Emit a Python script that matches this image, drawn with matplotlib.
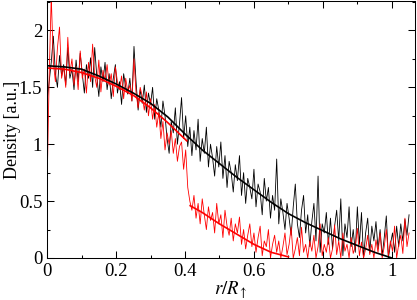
import numpy as np
import matplotlib
matplotlib.use('Agg')
import matplotlib.pyplot as plt
from matplotlib.ticker import MultipleLocator

# noisy density profiles, sampled every 0.006 in r/R
step = 0.006
black_noisy = [
    1.38, 1.55, 1.72, 1.95, 1.62, 1.50, 1.78, 1.60, 1.70, 1.52,
    1.85, 1.58, 1.66, 1.48, 1.74, 1.55, 1.80, 1.62, 1.45, 1.70,
    1.58, 1.76, 1.50, 1.85, 1.60, 1.42, 1.68, 1.55, 1.72, 1.48,
    1.62, 1.40, 1.58, 1.70, 1.45, 1.55, 1.35, 1.62, 1.50, 1.44,
    1.58, 1.38, 1.86, 1.55, 1.30, 1.48, 1.36, 1.52, 1.28, 1.45,
    1.35, 1.50, 1.22, 1.40, 1.30, 1.15, 1.38, 1.25, 1.05, 0.92,
    1.20, 1.10, 1.32, 1.00, 1.18, 1.41, 1.05, 1.25, 0.98, 1.15,
    0.90, 1.12, 0.95, 1.22, 0.85, 1.05, 0.92, 1.15, 0.80, 1.00,
    0.88, 0.72, 0.98, 0.80, 1.02, 0.70, 0.90, 0.62, 0.85, 0.75,
    0.58, 0.82, 0.68, 0.90, 0.55, 0.75, 0.48, 0.70, 0.62, 0.52,
    0.78, 0.45, 0.65, 0.58, 0.38, 0.70, 0.50, 0.62, 0.35, 0.55,
    0.42, 0.87, 0.30, 0.52, 0.40, 0.25, 0.48, 0.35, 0.20, 0.45,
    0.65, 0.30, 0.18, 0.42, 0.55, 0.22, 0.38, 0.10, 0.32, 0.48,
    0.15, 0.72, 0.05, 0.30, 0.22, 0.40, 0.12, 0.35, 0.08, 0.28,
    0.42, 0.15, 0.52, 0.02, 0.30, 0.18, 0.45, 0.10, 0.25, 0.05,
    0.45, 0.12, 0.40, 0.00, 0.22, 0.35, 0.05, 0.28, 0.15, 0.32,
    0.08, 0.25, 0.02, 0.18, 0.37, 0.00, 0.12, 0.22, 0.05, 0.28,
    0.10, 0.30, 0.15, 0.34, 0.20, 0.38,
]
red_noisy = [
    0.65, 1.60, 2.30, 1.72, 1.55, 1.85, 2.03, 1.58, 1.68, 1.50,
    1.94, 1.62, 1.75, 1.52, 1.68, 1.48, 1.82, 1.58, 1.66, 1.45,
    1.72, 1.55, 1.88, 1.60, 1.50, 1.74, 1.46, 1.65, 1.56, 1.70,
    1.52, 1.62, 1.42, 1.68, 1.55, 1.48, 1.60, 1.40, 1.58, 1.46,
    1.52, 1.38, 1.75, 1.45, 1.32, 1.50, 1.42, 1.30, 1.46, 1.25,
    1.40, 1.22, 1.35, 1.15, 1.28, 1.05, 1.20, 0.95, 1.10, 1.00,
    1.12, 0.92, 1.05, 0.85, 0.98, 1.02, 0.78, 0.95, 0.62, 0.50,
    0.42, 0.55, 0.35, 0.48, 0.30, 0.52, 0.38, 0.25, 0.45, 0.33,
    0.40, 0.22, 0.48, 0.30, 0.38, 0.18, 0.42, 0.28, 0.20, 0.35,
    0.15, 0.30, 0.22, 0.36, 0.12, 0.25, 0.08, 0.20, 0.30, 0.10,
    0.22, 0.05, 0.18, 0.28, 0.02, 0.15, 0.10, 0.25, 0.00, 0.12,
    0.20, 0.05, 0.15, 0.00, 0.10, 0.22, 0.03, 0.12, 0.27, 0.00,
    0.08, 0.18, 0.02, 0.27, 0.05, 0.12, 0.00, 0.15, 0.06, 0.20,
    0.00, 0.10, 0.30, 0.02, 0.12, 0.05, 0.18, 0.00, 0.08, 0.29,
    0.03, 0.15, 0.00, 0.22, 0.06, 0.12, 0.00, 0.18, 0.04, 0.10,
    0.26, 0.02, 0.14, 0.00, 0.08, 0.20, 0.03, 0.12, 0.00, 0.16,
    0.05, 0.22, 0.00, 0.10, 0.25, 0.02, 0.15, 0.06, 0.28, 0.00,
    0.12, 0.20, 0.04, 0.35, 0.10, 0.22,
]

# fitted profiles
fit_black_r = [0.00, 0.05, 0.10, 0.15, 0.20, 0.25, 0.30, 0.35, 0.40, 0.45, 0.50,
               0.55, 0.60, 0.65, 0.70, 0.75, 0.80, 0.85, 0.90, 0.95, 1.00]
fit_black = [1.69, 1.68, 1.66, 1.60, 1.53, 1.45, 1.36, 1.24, 1.09, 0.95, 0.83,
             0.71, 0.60, 0.49, 0.39, 0.31, 0.24, 0.17, 0.11, 0.05, 0.00]
fit_red_in_r = [0.00, 0.05, 0.10, 0.15, 0.20, 0.25, 0.30, 0.35, 0.405]
fit_red_in = [1.67, 1.66, 1.63, 1.58, 1.51, 1.43, 1.32, 1.19, 1.03]
fit_red_out_r = [0.415, 0.45, 0.50, 0.55, 0.60, 0.65, 0.70]
fit_red_out = [0.46, 0.40, 0.30, 0.21, 0.12, 0.05, 0.01]

plt.rcParams['font.family'] = ['Liberation Serif', 'DejaVu Serif']
plt.rcParams['mathtext.fontset'] = 'stix'

fig = plt.figure(figsize=(4.17, 3.0), dpi=100)
ax = fig.add_axes([0.113, 0.14, 0.882, 0.857])

r_noisy = np.arange(len(black_noisy)) * step
ax.plot(r_noisy, black_noisy, color='black', lw=0.6)
ax.plot(np.arange(len(red_noisy)) * step, red_noisy, color='red', lw=0.6)
ax.plot(fit_black_r, fit_black, color='black', lw=1.2)
ax.plot(fit_red_in_r, fit_red_in, color='red', lw=1.2)
ax.plot(fit_red_out_r, fit_red_out, color='red', lw=1.2)

ax.set_xlim(0, 1.067)
ax.set_ylim(0, 2.26)
ax.xaxis.set_minor_locator(MultipleLocator(0.1))
ax.yaxis.set_minor_locator(MultipleLocator(0.25))
ax.set_xticks([0, 0.2, 0.4, 0.6, 0.8, 1.0])
ax.set_xticklabels(['0', '0.2', '0.4', '0.6', '0.8', '1'])
ax.set_yticks([0, 0.5, 1.0, 1.5, 2.0])
ax.set_yticklabels(['0', '0.5', '1', '1.5', '2'])
ax.tick_params(which='both', direction='in', top=True, right=True,
               labelsize=13.5, width=0.75)
ax.tick_params(which='major', length=5)
ax.tick_params(which='minor', length=2.5)
for s in ax.spines.values():
    s.set_linewidth(0.75)

ax.set_xlabel(r'$r/R_{\uparrow}$', fontsize=13.5, labelpad=0)
ax.set_ylabel('Density [a.u.]', fontsize=13)
ax.yaxis.set_label_coords(-0.072, 0.5)

fig.savefig('out.png', dpi=100)
